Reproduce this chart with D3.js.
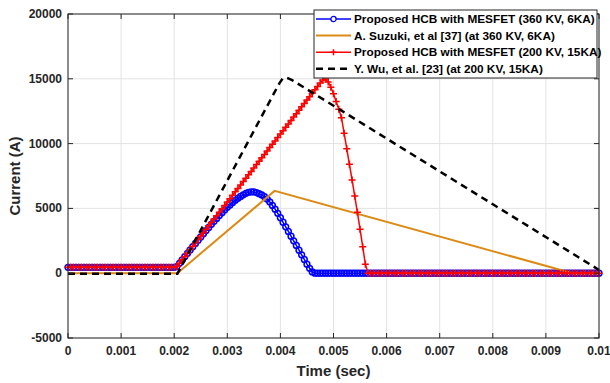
<!DOCTYPE html>
<html>
<head>
<meta charset="utf-8">
<script src="https://cdn.jsdelivr.net/npm/d3@7"></script>
<style>
  body { margin: 0; background: #fff; }
  svg { display: block; font-family: "Liberation Sans", Arial, sans-serif; }
</style>
</head>
<body>
<div id="chart"></div>
<script>
// sample step of the simulation traces (s)
const step = 0.00005;
const time = d3.range(201).map(i => +(i * step).toFixed(5));

// Proposed HCB with MESFET (360 KV, 6KA)
const hcb360 = [
  455, 455, 455, 455, 455, 455, 455, 455, 455, 455,
  455, 455, 455, 455, 455, 455, 455, 455, 455, 455,
  455, 455, 455, 455, 455, 455, 455, 455, 455, 455,
  455, 455, 455, 455, 455, 455, 455, 455, 455, 455,
  455, 500, 760, 1020, 1280, 1530, 1790, 2040, 2300, 2550,
  2800, 3050, 3290, 3530, 3770, 4000, 4230, 4450, 4670, 4880,
  5080, 5270, 5450, 5620, 5780, 5920, 6050, 6160, 6240, 6280,
  6270, 6220, 6140, 6040, 5900, 5720, 5500, 5230, 4940, 4620,
  4280, 3930, 3580, 3220, 2860, 2500, 2140, 1780, 1420, 1060,
  700, 380, 100, 0, 0, 0, 0, 0, 0, 0,
  0, 0, 0, 0, 0, 0, 0, 0, 0, 0,
  0, 0, 0, 0, 0, 0, 0, 0, 0, 0,
  0, 0, 0, 0, 0, 0, 0, 0, 0, 0,
  0, 0, 0, 0, 0, 0, 0, 0, 0, 0,
  0, 0, 0, 0, 0, 0, 0, 0, 0, 0,
  0, 0, 0, 0, 0, 0, 0, 0, 0, 0,
  0, 0, 0, 0, 0, 0, 0, 0, 0, 0,
  0, 0, 0, 0, 0, 0, 0, 0, 0, 0,
  0, 0, 0, 0, 0, 0, 0, 0, 0, 0,
  0, 0, 0, 0, 0, 0, 0, 0, 0, 0,
  0
];

// Proposed HCB with MESFET (200 KV, 15KA)
const hcb200 = [
  455, 455, 455, 455, 455, 455, 455, 455, 455, 455,
  455, 455, 455, 455, 455, 455, 455, 455, 455, 455,
  455, 455, 455, 455, 455, 455, 455, 455, 455, 455,
  455, 455, 455, 455, 455, 455, 455, 455, 455, 455,
  455, 510, 770, 1030, 1290, 1560, 1820, 2080, 2340, 2610,
  2870, 3130, 3390, 3660, 3920, 4180, 4440, 4700, 4970, 5230,
  5490, 5750, 6020, 6280, 6540, 6800, 7070, 7330, 7590, 7850,
  8110, 8380, 8640, 8900, 9160, 9430, 9690, 9950, 10210, 10480,
  10740, 11000, 11260, 11520, 11790, 12050, 12310, 12570, 12840, 13100,
  13360, 13620, 13890, 14150, 14410, 14670, 14900, 14980, 14750, 14350,
  13850, 13250, 12650, 12000, 10800, 9600, 8400, 7200, 5950, 4700,
  3400, 2050, 700, 0, 0, 0, 0, 0, 0, 0,
  0, 0, 0, 0, 0, 0, 0, 0, 0, 0,
  0, 0, 0, 0, 0, 0, 0, 0, 0, 0,
  0, 0, 0, 0, 0, 0, 0, 0, 0, 0,
  0, 0, 0, 0, 0, 0, 0, 0, 0, 0,
  0, 0, 0, 0, 0, 0, 0, 0, 0, 0,
  0, 0, 0, 0, 0, 0, 0, 0, 0, 0,
  0, 0, 0, 0, 0, 0, 0, 0, 0, 0,
  0, 0, 0, 0, 0, 0, 0, 0, 0, 0,
  0
];

// A. Suzuki, et al [37]
const suzukiTime = [0, 0.00206, 0.00389, 0.0095, 0.01];
const suzukiCurrent = [0, 0, 6350, 0, 0];

// Y. Wu, et al. [23]
const wuTime = [0, 0.00206, 0.00398, 0.00404, 0.0041, 0.00416, 0.00422, 0.01];
const wuCurrent = [-50, -50, 14650, 15000, 15100, 15020, 14900, 250];

const xTicks = [0, 0.001, 0.002, 0.003, 0.004, 0.005, 0.006, 0.007, 0.008, 0.009, 0.01];
const xTickLabels = ["0", "0.001", "0.002", "0.003", "0.004", "0.005", "0.006", "0.007", "0.008", "0.009", "0.01"];
const yTicks = [-5000, 0, 5000, 10000, 15000, 20000];
const yTickLabels = ["-5000", "0", "5000", "10000", "15000", "20000"];

const legendLabels = [
  "Proposed HCB with MESFET (360 KV, 6KA)",
  "A. Suzuki, et al [37] (at 360 KV, 6KA)",
  "Proposed HCB with MESFET (200 KV, 15KA)",
  "Y. Wu, et al. [23] (at 200 KV, 15KA)"
];

const width = 610, height = 383;
const plot = { left: 68, right: 599, top: 14, bottom: 338 };
const axisColor = "#262626";

const svg = d3.select("#chart").append("svg")
  .attr("width", width)
  .attr("height", height);

const x = d3.scaleLinear().domain([0, 0.01]).range([plot.left, plot.right]);
const y = d3.scaleLinear().domain([-5000, 20000]).range([plot.bottom, plot.top]);

// grid
svg.append("g")
  .selectAll("line")
  .data(xTicks)
  .enter().append("line")
  .attr("x1", d => x(d)).attr("x2", d => x(d))
  .attr("y1", plot.top).attr("y2", plot.bottom)
  .attr("stroke", "#e3e3e3").attr("stroke-width", 1);

svg.append("g")
  .selectAll("line")
  .data(yTicks)
  .enter().append("line")
  .attr("x1", plot.left).attr("x2", plot.right)
  .attr("y1", d => y(d)).attr("y2", d => y(d))
  .attr("stroke", "#e3e3e3").attr("stroke-width", 1);

// traces
const pts = (ts, vs) => ts.map((t, i) => [t, vs[i]]);
const line = d3.line().x(d => x(d[0])).y(d => y(d[1]));

const blueData = pts(time, hcb360);
const redData = pts(time, hcb200);

svg.append("path")
  .datum(blueData)
  .attr("d", line)
  .attr("fill", "none")
  .attr("stroke", "#0000ff")
  .attr("stroke-width", 1.5);

svg.append("g")
  .selectAll("circle")
  .data(blueData)
  .enter().append("circle")
  .attr("cx", d => x(d[0]))
  .attr("cy", d => y(d[1]))
  .attr("r", 2.9)
  .attr("fill", "none")
  .attr("stroke", "#0000ff")
  .attr("stroke-width", 1.5);

svg.append("path")
  .datum(pts(suzukiTime, suzukiCurrent))
  .attr("d", line)
  .attr("fill", "none")
  .attr("stroke", "#dc8a14")
  .attr("stroke-width", 2);

svg.append("path")
  .datum(redData)
  .attr("d", line)
  .attr("fill", "none")
  .attr("stroke", "#ff0000")
  .attr("stroke-width", 1.5);

const plus = (sel, s) => sel.append("path")
  .attr("d", `M${-s},0H${s}M0,${-s}V${s}`)
  .attr("stroke", "#ff0000")
  .attr("stroke-width", 1.5)
  .attr("fill", "none");

svg.append("g")
  .selectAll("g")
  .data(redData)
  .enter().append("g")
  .attr("transform", d => `translate(${x(d[0])},${y(d[1])})`)
  .call(plus, 3.5);

svg.append("path")
  .datum(pts(wuTime, wuCurrent))
  .attr("d", line)
  .attr("fill", "none")
  .attr("stroke", "#000")
  .attr("stroke-width", 2.5)
  .attr("stroke-dasharray", "7,5");

// box + ticks
svg.append("rect")
  .attr("x", plot.left).attr("y", plot.top)
  .attr("width", plot.right - plot.left)
  .attr("height", plot.bottom - plot.top)
  .attr("fill", "none")
  .attr("stroke", axisColor)
  .attr("stroke-width", 1);

const tickLen = 5;
svg.append("g")
  .selectAll("path")
  .data(xTicks)
  .enter().append("path")
  .attr("d", d => `M${x(d)},${plot.bottom}v${-tickLen}M${x(d)},${plot.top}v${tickLen}`)
  .attr("stroke", axisColor);

svg.append("g")
  .selectAll("path")
  .data(yTicks)
  .enter().append("path")
  .attr("d", d => `M${plot.left},${y(d)}h${tickLen}M${plot.right},${y(d)}h${-tickLen}`)
  .attr("stroke", axisColor);

svg.append("g")
  .attr("font-size", 12)
  .attr("font-weight", "bold")
  .attr("fill", axisColor)
  .attr("text-anchor", "middle")
  .selectAll("text")
  .data(xTicks)
  .enter().append("text")
  .attr("x", d => x(d))
  .attr("y", plot.bottom + 17)
  .text((d, i) => xTickLabels[i]);

svg.append("g")
  .attr("font-size", 12)
  .attr("font-weight", "bold")
  .attr("fill", axisColor)
  .attr("text-anchor", "end")
  .selectAll("text")
  .data(yTicks)
  .enter().append("text")
  .attr("x", plot.left - 6)
  .attr("y", d => y(d) + 4)
  .text((d, i) => yTickLabels[i]);

svg.append("text")
  .attr("x", (plot.left + plot.right) / 2)
  .attr("y", 376)
  .attr("text-anchor", "middle")
  .attr("font-size", 15)
  .attr("font-weight", "bold")
  .attr("fill", axisColor)
  .text("Time (sec)");

svg.append("text")
  .attr("transform", "translate(20,176) rotate(-90)")
  .attr("text-anchor", "middle")
  .attr("font-size", 15)
  .attr("font-weight", "bold")
  .attr("fill", axisColor)
  .text("Current (A)");

// legend
const legend = svg.append("g");
legend.append("rect")
  .attr("x", 314).attr("y", 10)
  .attr("width", 283).attr("height", 68)
  .attr("fill", "#fff")
  .attr("stroke", axisColor)
  .attr("stroke-width", 1);

const legendStyles = [
  { color: "#0000ff", width: 1.5, dash: null, marker: "circle" },
  { color: "#dc8a14", width: 2, dash: null, marker: null },
  { color: "#ff0000", width: 1.5, dash: null, marker: "plus" },
  { color: "#000", width: 2.5, dash: "7,5", marker: null }
];

const rows = legend.selectAll("g")
  .data(legendLabels)
  .enter().append("g")
  .attr("transform", (d, i) => `translate(0,${19 + i * 16.6})`);

rows.append("line")
  .attr("x1", 316).attr("x2", 351)
  .attr("stroke", (d, i) => legendStyles[i].color)
  .attr("stroke-width", (d, i) => legendStyles[i].width)
  .attr("stroke-dasharray", (d, i) => legendStyles[i].dash);

rows.filter((d, i) => legendStyles[i].marker === "circle")
  .append("circle")
  .attr("cx", 333.5).attr("r", 2.6)
  .attr("fill", "#fff")
  .attr("stroke", "#0000ff")
  .attr("stroke-width", 1.3);

rows.filter((d, i) => legendStyles[i].marker === "plus")
  .append("g")
  .attr("transform", "translate(333.5,0)")
  .call(plus, 3);

rows.append("text")
  .attr("x", 354)
  .attr("y", 4)
  .attr("font-size", 11.8)
  .attr("font-weight", "bold")
  .attr("fill", "#000")
  .text(d => d);
</script>
</body>
</html>
